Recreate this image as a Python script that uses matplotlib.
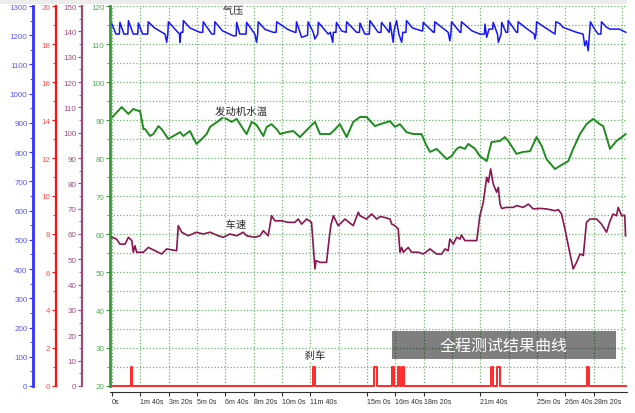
import matplotlib
matplotlib.use('Agg')
import matplotlib.pyplot as plt
import matplotlib.patheffects as pe
from matplotlib.ticker import MultipleLocator, FixedLocator
from matplotlib.patches import Rectangle

plt.rcParams['font.family'] = ['Liberation Sans', 'DejaVu Sans']
CJK = ['Noto Sans CJK SC', 'DejaVu Sans']

# 气压 (blue axis)
press_t = [0, 14, 26, 28, 42, 56, 58, 75, 91, 93, 108, 126, 128, 150, 187, 193, 197, 199,
           238, 240, 243, 250, 252, 275, 310, 320, 322, 352, 361, 363, 390, 428, 438, 440,
           451, 473, 475, 504, 510, 514, 516, 540, 569, 579, 581, 620, 645, 649, 651, 669,
           690, 692, 710, 716, 726, 728, 763, 770, 779, 781, 790, 792, 810, 826, 828, 863,
           873, 875, 892, 908, 910, 939, 949, 951, 978, 981, 992, 995, 1004, 1012, 1022,
           1026, 1037, 1039, 1060, 1092, 1096, 1098, 1134, 1137, 1139, 1186, 1192, 1196,
           1198, 1228, 1231, 1233, 1270, 1298, 1314, 1316, 1322, 1330, 1343, 1345, 1360,
           1363, 1373, 1375, 1390, 1396, 1398, 1427, 1431, 1433, 1460, 1490, 1492, 1496,
           1498, 1530, 1563, 1566, 1580, 1591, 1639, 1662, 1668, 1674, 1680, 1688, 1700,
           1715, 1725, 1727, 1745, 1757, 1790, 1813]
press_v = [1238, 1204, 1204, 1244, 1204, 1204, 1250, 1204, 1204, 1242, 1204, 1204, 1246, 1225,
           1204, 1176, 1204, 1246, 1204, 1176, 1210, 1210, 1250, 1225, 1210, 1210, 1246, 1204,
           1204, 1246, 1215, 1198, 1198, 1244, 1204, 1204, 1244, 1204, 1176, 1204, 1246, 1220,
           1210, 1210, 1246, 1220, 1210, 1210, 1246, 1193, 1200, 1246, 1210, 1187, 1204, 1244,
           1204, 1210, 1176, 1210, 1210, 1244, 1215, 1210, 1246, 1210, 1210, 1242, 1204, 1204,
           1250, 1210, 1210, 1244, 1210, 1244, 1176, 1215, 1250, 1204, 1176, 1210, 1210, 1250,
           1225, 1215, 1215, 1244, 1210, 1210, 1246, 1210, 1181, 1210, 1246, 1210, 1210, 1246,
           1215, 1204, 1204, 1238, 1193, 1221, 1221, 1244, 1204, 1176, 1204, 1244, 1210, 1210,
           1250, 1210, 1210, 1246, 1225, 1204, 1187, 1204, 1246, 1225, 1204, 1246, 1240, 1227,
           1210, 1204, 1164, 1181, 1147, 1246, 1225, 1204, 1204, 1246, 1227, 1221, 1221, 1210]

# 发动机水温 (green axis)
temp_t = [2, 34, 58, 75, 93, 99, 111, 117, 134, 146, 164, 175, 199, 210, 240, 252, 275, 298,
          310, 334, 346, 375, 393, 422, 440, 463, 475, 493, 510, 534, 546, 563, 581, 593, 616,
          640, 663, 698, 716, 734, 769, 781, 804, 828, 851, 875, 898, 928, 946, 981, 998, 1016,
          1039, 1063, 1092, 1110, 1122, 1145, 1163, 1181, 1198, 1216, 1228, 1245, 1257, 1281,
          1298, 1322, 1339, 1369, 1386, 1398, 1427, 1451, 1475, 1498, 1516, 1533, 1563, 1580,
          1610, 1627, 1651, 1674, 1698, 1721, 1733, 1757, 1780, 1804, 1812]
temp_v = [90.8, 93.4, 91.6, 92.9, 92.4, 92.4, 87.6, 87.6, 85.8, 86.3, 88.4, 87.6, 85.0, 85.5,
          86.8, 85.8, 87.1, 83.7, 84.5, 86.3, 88.2, 89.7, 90.8, 89.5, 90.3, 87.6, 86.3, 89.5,
          88.7, 85.8, 88.2, 88.9, 87.6, 86.3, 86.8, 87.1, 85.5, 88.2, 89.5, 86.3, 86.3, 87.1,
          88.9, 85.5, 89.5, 90.8, 90.8, 88.4, 88.9, 89.7, 88.2, 88.9, 86.8, 86.3, 86.3, 83.2,
          81.6, 82.4, 81.1, 79.7, 80.5, 82.4, 82.9, 82.4, 83.7, 82.4, 80.5, 79.2, 84.2, 84.5,
          85.5, 84.5, 81.1, 81.6, 81.8, 85.5, 83.2, 79.7, 77.1, 77.9, 79.2, 82.4, 86.3, 88.9,
          90.3, 88.9, 88.4, 82.4, 84.5, 85.8, 86.3]

# 车速 (purple axis)
speed_t = [0, 16, 28, 46, 58, 70, 75, 81, 87, 111, 128, 152, 175, 193, 228, 234, 246, 269, 298,
           322, 346, 375, 393, 416, 440, 463, 475, 504, 522, 534, 551, 563, 575, 598, 622, 645,
           657, 669, 687, 704, 716, 720, 734, 757, 766, 772, 781, 798, 822, 851, 869, 875, 898,
           916, 934, 946, 963, 981, 987, 998, 1010, 1016, 1022, 1028, 1045, 1057, 1081, 1098,
           1122, 1145, 1163, 1175, 1186, 1192, 1204, 1216, 1228, 1233, 1245, 1281, 1287, 1292,
           1298, 1310, 1322, 1328, 1336, 1345, 1357, 1363, 1369, 1375, 1392, 1416, 1427, 1451,
           1469, 1486, 1510, 1533, 1563, 1575, 1586, 1598, 1610, 1627, 1639, 1651, 1663, 1674,
           1686, 1710, 1727, 1745, 1757, 1768, 1780, 1786, 1798, 1809, 1812]
speed_v = [58.7, 58.0, 56.0, 56.0, 58.7, 57.4, 52.8, 55.4, 52.8, 52.8, 54.7, 53.4, 52.1, 54.1,
           53.4, 63.3, 60.7, 59.3, 60.7, 60.0, 60.7, 59.3, 58.7, 60.0, 59.3, 60.7, 59.3, 58.7,
           59.3, 61.3, 59.3, 67.2, 65.2, 65.2, 64.6, 64.6, 65.9, 63.9, 65.9, 64.6, 46.2, 49.5,
           48.8, 48.8, 58.0, 63.3, 67.2, 63.3, 65.9, 63.3, 68.6, 67.2, 65.9, 67.9, 65.9, 66.9,
           66.5, 65.9, 63.9, 63.3, 62.0, 52.8, 54.7, 52.8, 54.7, 52.8, 52.8, 52.1, 54.1, 52.1,
           52.1, 54.1, 53.4, 58.0, 56.0, 58.7, 58.0, 59.6, 57.4, 57.4, 57.4, 62.0, 67.2, 72.5,
           82.4, 80.4, 85.7, 79.7, 76.5, 78.4, 71.8, 70.1, 70.5, 70.5, 71.2, 70.5, 71.8, 69.9,
           70.1, 69.9, 69.2, 69.6, 67.9, 62.0, 55.4, 46.2, 48.8, 52.1, 51.5, 64.6, 65.9, 65.9,
           63.9, 60.7, 65.2, 67.9, 67.2, 70.5, 67.2, 67.4, 59.3]

# 刹车 (red axis), on/off times in s
brake_on = [67, 710, 925, 987, 1010, 1022, 1337, 1357, 1677]
brake_off = [72, 718, 934, 995, 1016, 1030, 1345, 1369, 1684]

tick_pos = [0, 100, 200, 300, 400, 500, 600, 700, 900, 1000, 1100, 1300, 1500, 1600, 1700]
tick_lbl = ['0s', '1m 40s', '3m 20s', '5m 0s', '6m 40s', '8m 20s', '10m 0s', '11m 40s',
            '15m 0s', '16m 40s', '18m 20s', '21m 40s', '25m 0s', '26m 40s', '28m 20s']

GRID = '#6cb86c'

fig = plt.figure(figsize=(6.35, 4.14), dpi=100)
fig.add_artist(Rectangle((0, 409 / 414), 627 / 635, 5 / 414, transform=fig.transFigure,
                         facecolor='#ececec', edgecolor='none'))
ax = fig.add_axes([110 / 635, 27 / 414, 517 / 635, 380 / 414])
ax.set_xlim(-7, 1817)
ax.set_ylim(20, 120)
ax.set_axisbelow(True)
for s in ['top', 'right']:
    ax.spines[s].set_visible(False)
ax.spines['left'].set_color('#3a9a3a')
ax.spines['left'].set_linewidth(2)
ax.spines['bottom'].set_color('#303030')
ax.spines['bottom'].set_position(('outward', 4))
ax.yaxis.set_major_locator(MultipleLocator(10))
ax.yaxis.set_minor_locator(MultipleLocator(5))
ax.xaxis.set_major_locator(FixedLocator(tick_pos))
ax.xaxis.set_minor_locator(MultipleLocator(100))
ax.set_xticklabels(tick_lbl)
for lb in ax.get_xticklabels():
    lb.set_horizontalalignment('left')
ax.tick_params(axis='x', which='major', length=3, pad=1.5, labelsize=5.1, colors='#303030')
ax.tick_params(axis='x', which='minor', length=0)
ax.tick_params(axis='y', which='major', length=3, pad=1, labelsize=5.8,
               colors='#3a9a3a', labelcolor='#55aa55')
ax.tick_params(axis='y', which='minor', length=2, colors='#3a9a3a')
ax.grid(True, which='both', color=GRID, linestyle=(0, (1, 1.6)), linewidth=0.9)
ax.plot(temp_t, temp_v, color='#1e8c1e', lw=1.4)


def side_axis(pos, spine_c, label_c, lo, hi, major, minor, lw):
    a = ax.twinx()
    for s in ['top', 'right', 'bottom']:
        a.spines[s].set_visible(False)
    a.spines['left'].set_visible(True)
    a.spines['left'].set_position(('axes', pos))
    a.spines['left'].set_color(spine_c)
    a.spines['left'].set_linewidth(lw)
    a.yaxis.set_ticks_position('left')
    a.set_ylim(lo, hi)
    a.yaxis.set_major_locator(MultipleLocator(major))
    a.yaxis.set_minor_locator(MultipleLocator(minor))
    a.tick_params(axis='y', which='major', length=3, pad=1, labelsize=5.8,
                  colors=spine_c, labelcolor=label_c)
    a.tick_params(axis='y', which='minor', length=2, colors=spine_c)
    return a


ax_p = side_axis((33 - 110) / 517, '#3030ff', '#5a5aff', 0, 1300, 100, 50, 2)
ax_b = side_axis((56 - 110) / 517, '#ff1010', '#ff5050', 0, 20, 2, 1, 1.6)
ax_s = side_axis((82 - 110) / 517, '#97507a', '#a05080', 0, 150, 10, 5, 1.6)

ax_p.plot(press_t, press_v, color='#1515ff', lw=1.1)
ax_s.plot(speed_t, speed_v, color='#8a1650', lw=1.2)

bt, bv = [0], [0]
for on, off in zip(brake_on, brake_off):
    bt += [on, on, off, off]
    bv += [0, 1, 1, 0]
bt.append(1812)
bv.append(0)
ax_b.plot(bt, bv, color='#ff2a2a', lw=1.4, clip_on=False)

halo = [pe.withStroke(linewidth=2.5, foreground='white')]
ax_p.text(427, 1283, '气压', family=CJK, fontsize=7.5, ha='center', va='center',
          color='#202020', path_effects=halo)
ax.text(455, 92.1, '发动机水温', family=CJK, fontsize=7.5, ha='center', va='center',
        color='#202020', path_effects=halo)
ax_s.text(437, 63.5, '车速', family=CJK, fontsize=7.5, ha='center', va='center',
          color='#202020', path_effects=halo)
ax_b.text(716, 1.58, '刹车', family=CJK, fontsize=7.5, ha='center', va='center',
          color='#202020', path_effects=halo)

fig.add_artist(Rectangle((392 / 635, 1 - 360 / 414), 224 / 635, 28 / 414,
                         transform=fig.transFigure, facecolor='black', alpha=0.5,
                         edgecolor='none', zorder=5))
fig.text(504 / 635, 1 - 346 / 414, '全程测试结果曲线', family=CJK, fontsize=11.5,
         color='white', ha='center', va='center', zorder=6)

fig.savefig('out.png', dpi=100)
